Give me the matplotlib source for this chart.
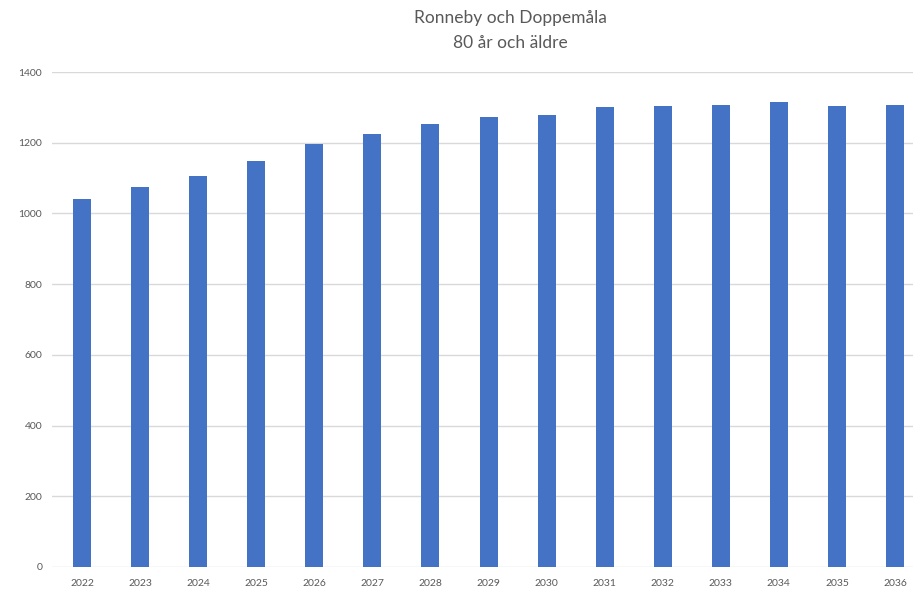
#!/usr/bin/env python

import numpy as np
import matplotlib
matplotlib.use('Agg')
import matplotlib.pyplot as plt

plt.rcParams['font.family'] = ['Lato', 'DejaVu Sans']

years = ['2022', '2023', '2024', '2025', '2026', '2027', '2028', '2029',
         '2030', '2031', '2032', '2033', '2034', '2035', '2036']
antal = [1040, 1074, 1107, 1148, 1195, 1225, 1253, 1273,
         1279, 1300, 1304, 1307, 1316, 1304, 1307]
yticks = [0, 200, 400, 600, 800, 1000, 1200, 1400]

W, H = 913, 591
fig = plt.figure(figsize=(W / 100, H / 100), dpi=100)
ax = fig.add_axes([52 / W, (H - 567) / H, 861 / W, 495 / H])

x = np.arange(len(years))
ax.bar(x, antal, width=0.31, color='#4472C4', zorder=3)

ax.set_xlim(-0.517, 14.31)
ax.set_ylim(0, 1400)
ax.set_yticks(yticks)
ax.set_xticks(x)
ax.set_xticklabels(years)
ax.grid(axis='y', color='#d9d9d9', linewidth=1, zorder=0)
for s in ax.spines.values():
    s.set_visible(False)
ax.tick_params(axis='both', length=0, labelsize=7.5, colors='#595959')
ax.tick_params(axis='y', pad=7)
ax.tick_params(axis='x', pad=9)

fig.text(510 / W, 1 - 18 / H, 'Ronneby och Doppemåla', ha='center', va='center',
         fontsize=12.5, color='#595959')
fig.text(510 / W, 1 - 43 / H, '80 år och äldre', ha='center', va='center',
         fontsize=12.5, color='#595959')

plt.savefig('out.png', dpi=100)
